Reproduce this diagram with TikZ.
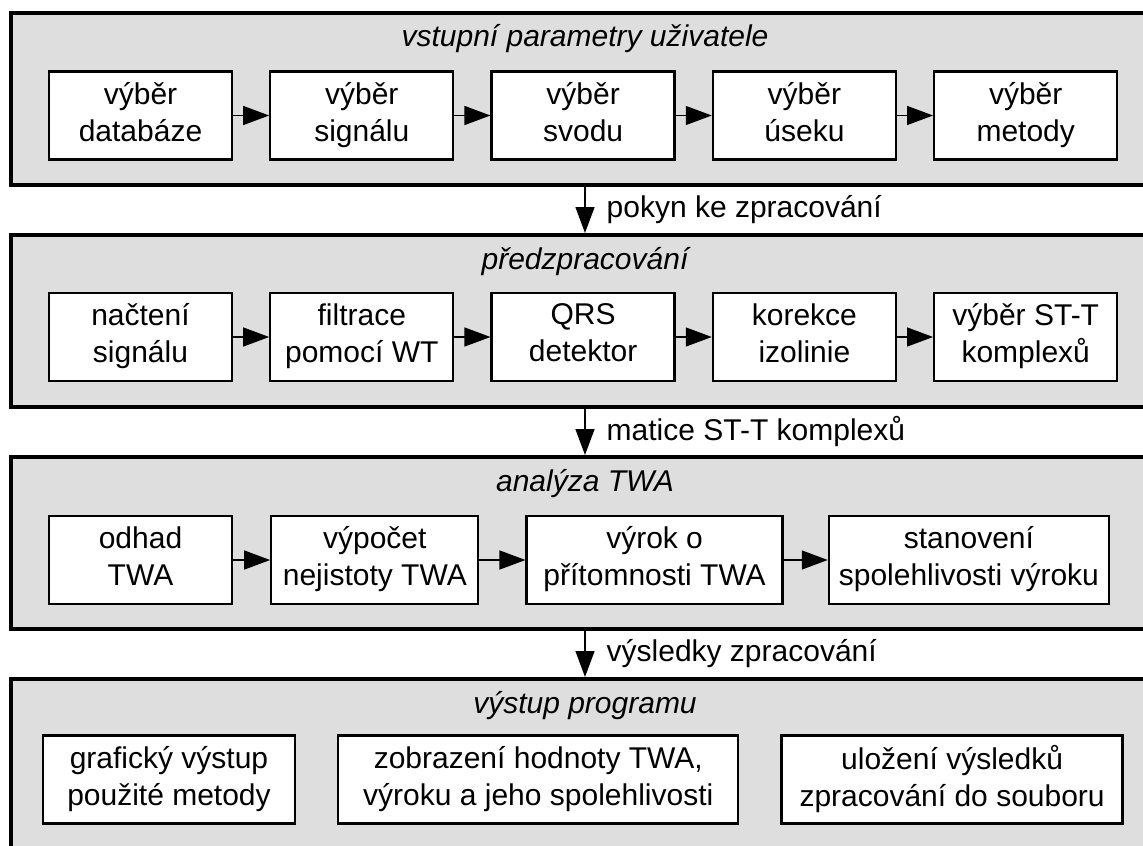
\documentclass[tikz,border=0pt]{standalone}
\usepackage{fontspec}
\setmainfont{Liberation Sans}
\usetikzlibrary{positioning,arrows.meta}
\definecolor{panelgray}{RGB}{222,222,222}

\begin{document}
\begin{tikzpicture}[x=0.5pt,y=-0.5pt,node distance=18pt,>={Triangle[length=13pt,width=9.5pt]},font=\fontsize{15}{18.5}\selectfont]

\tikzset{
  panel/.style={draw=black,line width=2pt,fill=panelgray,minimum width=574pt,minimum height=86pt},
  ptitle/.style={font=\fontsize{15}{18.5}\selectfont\itshape,anchor=base,inner sep=0pt},
  block/.style={draw=black,line width=1.15pt,fill=white,align=center,minimum width=91.5pt,minimum height=44pt,inner sep=2pt,
    execute at begin node={\rule{0pt}{16pt}},execute at end node={\rule[-4pt]{0pt}{4pt}}},
  flow/.style={->,line width=0.65pt},
  note/.style={right=10.5pt,inner sep=0pt}
}

\clip (0,0) rectangle (1143,845);

    % panels
    \node[panel] (p1) at (585,99) {};
    \node[panel,below=23pt of p1] (p2) {};
    \node[panel,below=23pt of p2] (p3) {};
    \node[panel,below=23pt of p3] (p4) {};

    \node[ptitle] (t1) at ([yshift=-18pt]p1.north) {vstupní parametry uživatele};
    \node[ptitle] (t2) at ([yshift=-18pt]p2.north) {předzpracování};
    \node[ptitle] (t3) at ([yshift=-18pt]p3.north) {analýza TWA};
    \node[ptitle] (t4) at ([yshift=-18pt]p4.north) {výstup programu};

    % vstup
    \node[block] (vdb) at (140.5,115.5) {výběr\\databáze};
    \node[block,right=of vdb] (vsig) {výběr\\signálu};
    \node[block,right=of vsig] (vsv) {výběr\\svodu};
    \node[block,right=of vsv] (vus) {výběr\\úseku};
    \node[block,right=of vus] (vmet) {výběr\\metody};

    % predzpracovani
    \node[block] (nac) at (140.5,337) {načtení\\signálu};
    \node[block,right=of nac] (fil) {filtrace\\pomocí WT};
    \node[block,right=of fil] (qrs) {QRS\\detektor};
    \node[block,right=of qrs] (kor) {korekce\\izolinie};
    \node[block,right=of kor] (stt) {výběr ST-T\\komplexů};

    % analyza
    \node[block] (odh) at (140.5,560) {odhad\\TWA};
    \node[block,minimum width=103.5pt,right=18.5pt of odh] (nej) {výpočet\\nejistoty TWA};
    \node[block,minimum width=128pt,right=23pt of nej] (vyr) {výrok o\\přítomnosti TWA};
    \node[block,minimum width=140pt,right=22pt of vyr] (spo) {stanovení\\spolehlivosti výroku};

    % vystup
    \node[block,minimum width=126pt] (gra) at (169,779.5) {grafický výstup\\použité metody};
    \node[block,minimum width=200pt,right=20.5pt of gra] (zob) {zobrazení hodnoty TWA,\\výroku a jeho spolehlivosti};
    \node[block,minimum width=170.5pt,right=20.5pt of zob] (ulo) {uložení výsledků\\zpracování do souboru};

\path
    (vdb) edge[flow] (vsig)
    (vsig) edge[flow] (vsv)
    (vsv) edge[flow] (vus)
    (vus) edge[flow] (vmet)
    (nac) edge[flow] (fil)
    (fil) edge[flow] (qrs)
    (qrs) edge[flow] (kor)
    (kor) edge[flow] (stt)
    (odh) edge[flow] (nej)
    (nej) edge[flow] (vyr)
    (vyr) edge[flow] (spo);

\path
    (p1) edge[flow] node[note]{pokyn ke zpracování} (p2)
    (p2) edge[flow] node[note]{matice ST-T komplexů} (p3)
    (p3) edge[flow] node[note]{výsledky zpracování} (p4);
\end{tikzpicture}
\end{document}
